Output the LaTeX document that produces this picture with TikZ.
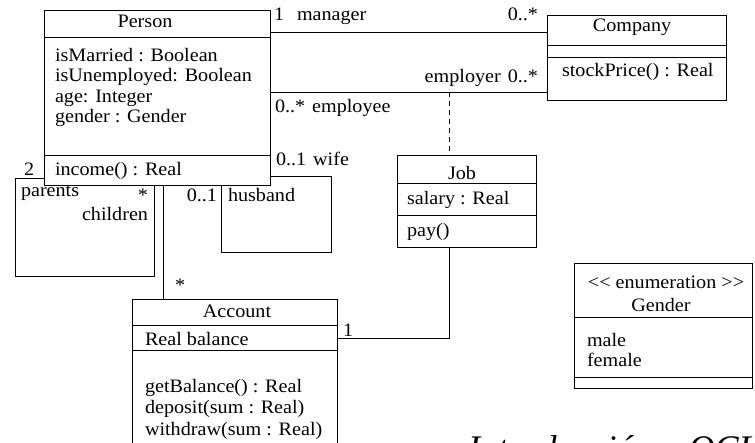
\documentclass[tikz,border=0pt]{standalone}
\usepackage{fontspec}
\setmainfont{Liberation Serif}[FakeStretch=1.06]
\newfontfamily\captionfont{Liberation Serif}
\begin{document}
\begin{tikzpicture}[x=1pt,y=-1pt,
  font=\fontsize{19pt}{21pt}\selectfont,
  line width=0.8pt,
  umlbox/.style={draw, anchor=north west, inner sep=0pt, outer sep=0pt},
  txt/.style={anchor=base west, inner sep=0pt, outer sep=0pt},
  rtxt/.style={anchor=base east, inner sep=0pt, outer sep=0pt},
  ctxt/.style={anchor=base, inner sep=0pt, outer sep=0pt}]
\useasboundingbox (0,0) rectangle (755,442);

% ---------- class boxes ----------
\node[umlbox, minimum width=226pt, minimum height=175pt] (person)  at (44,10)  {};
\node[umlbox, minimum width=179pt, minimum height=85pt]  (company) at (547,15) {};
\node[umlbox, minimum width=139pt, minimum height=92pt]  (job)     at (397,155) {};
\node[umlbox, minimum width=205pt, minimum height=165pt] (account) at (132,299) {};
\node[umlbox, minimum width=178pt, minimum height=125pt] (gender)  at (574,263) {};

% compartment separators
\draw ([yshift=-27pt]person.north west)  -- ([yshift=-27pt]person.north east);
\draw ([yshift=-145pt]person.north west) -- ([yshift=-145pt]person.north east);
\draw ([yshift=-30pt]company.north west) -- ([yshift=-30pt]company.north east);
\draw ([yshift=-42pt]company.north west) -- ([yshift=-42pt]company.north east);
\draw ([yshift=-28pt]job.north west)     -- ([yshift=-28pt]job.north east);
\draw ([yshift=-60pt]job.north west)     -- ([yshift=-60pt]job.north east);
\draw ([yshift=-26pt]account.north west) -- ([yshift=-26pt]account.north east);
\draw ([yshift=-51pt]account.north west) -- ([yshift=-51pt]account.north east);
\draw ([yshift=-54pt]gender.north west)  -- ([yshift=-54pt]gender.north east);
\draw ([yshift=-114pt]gender.north west) -- ([yshift=-114pt]gender.north east);

% ---------- class texts ----------
\node[ctxt] (personName) at (145,27) {Person};
\node[txt] (pa1) at (55,61)    {isMarried : Boolean};
\node[txt] (pa2) at (55,81.5)  {isUnemployed: Boolean};
\node[txt] (pa3) at (55,102)   {age: Integer};
\node[txt] (pa4) at (55,122.5) {gender : Gender};
\node[txt] (pm1) at (55,175)   {income() : Real};

\node[ctxt] (companyName) at (632,31) {Company};
\node[txt] (cm1) at (562,76) {stockPrice() : Real};

\node[ctxt] (jobName) at (462,179) {Job};
\node[txt] (ja1) at (407,204) {salary : Real};
\node[txt] (jm1) at (407,236) {pay()};

\node[ctxt] (accountName) at (237,317) {Account};
\node[txt] (aa1) at (145,345) {Real balance};
\node[txt] (am1) at (145,392) {getBalance() : Real};
\node[txt] (am2) at (145,413.5) {deposit(sum : Real)};
\node[txt] (am3) at (145,435) {withdraw(sum : Real)};

% separate boxes keep the two angle brackets from merging into a guillemet
\node[ctxt] (stereo) at (666,288)
  {\mbox{<}\mbox{<} enumeration \mbox{>}\mbox{>}};
\node[ctxt] (genderName) at (661,311) {Gender};
\node[txt] (lit1) at (587,346) {male};
\node[txt] (lit2) at (587,366) {female};

% ---------- associations ----------
% Person -- Company (manager)
\draw ([yshift=-22pt]person.north east) -- ([yshift=-17pt]company.north west);
% Person -- Company (employee / employer) with Job as association class
\draw ([yshift=-82pt]person.north east) -- ([yshift=-77pt]company.north west);
\coordinate (jobLink) at (449,92);
\draw[dash pattern=on 5pt off 4pt] (jobLink) -- (jobLink |- job.north);
% Job -- Account
\draw (jobLink |- job.south) |- ([yshift=-39pt]account.north east);
% Person -- Account
\draw ([xshift=-71.5pt]account.north) -- ([xshift=-71.5pt]account.north |- person.south);
% parents / children self association
\draw ([yshift=-168pt]person.north west) -- ++(-29,0) -- ++(0,98) -- ++(139,0)
      coordinate (pcEnd) -- (pcEnd |- person.south);
% wife / husband self association
\draw ([yshift=-166pt]person.north east) -- ++(61,0) -- ++(0,76) -- ++(-110,0)
      coordinate (whEnd) -- (whEnd |- person.south);

% ---------- role names and multiplicities ----------
\node[txt] (m1) at (274,20) {1};
\node[txt] (r1) at (297,20) {manager};
\node[rtxt] (m2) at (538,20) {0..*};
\node[rtxt] (r2) at (538,82) {employer\hspace{7pt}0..*};
\node[txt] (r3) at (275,112) {0..*\hspace{7pt}employee};
\node[txt] (m3) at (24,175) {2};
\node[txt] (r4) at (21,196) {parents};
\node[rtxt] (m4) at (148,201) {*};
\node[rtxt] (r5) at (148,220) {children};
\node[txt] (r6) at (276,165) {0..1\hspace{7pt}wife};
\node[rtxt] (m5) at (217,201) {0..1};
\node[txt] (r7) at (228,201) {husband};
\node[txt] (m6) at (175,291) {*};
\node[txt] (m7) at (343,336) {1};

% ---------- caption (runs past the lower edge) ----------
\node[txt, font=\captionfont\fontsize{36pt}{40pt}\selectfont\itshape] (caption)
  at (468,460) {Introducción a OCL};
\end{tikzpicture}
\end{document}
